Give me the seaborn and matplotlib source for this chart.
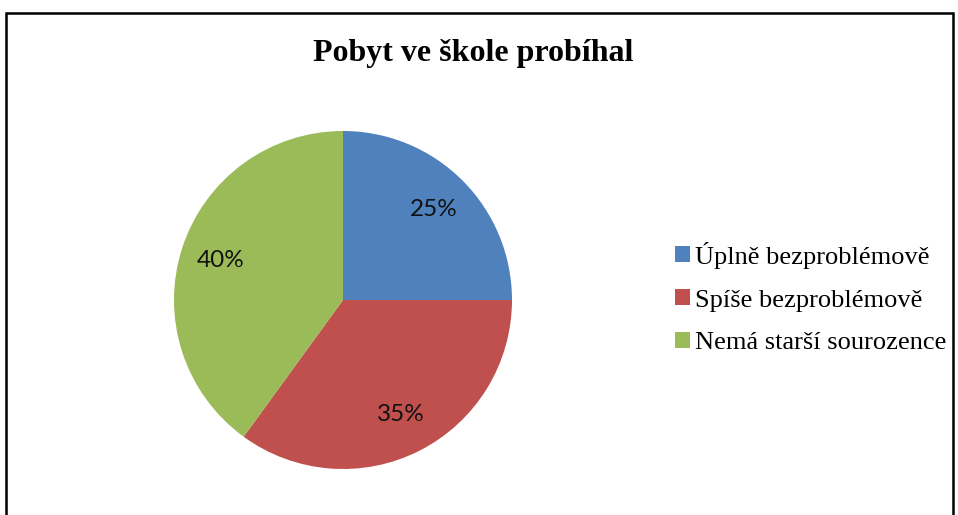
import matplotlib
matplotlib.use("Agg")
import matplotlib.pyplot as plt
import seaborn as sns
from matplotlib.patches import Rectangle

# data
categories = ["Úplně bezproblémově", "Spíše bezproblémově", "Nemá starší sourozence"]
values = [25, 35, 40]
colors = ["#4F81BD", "#C0504D", "#9BBB59"]
title = "Pobyt ve škole probíhal"

sns.set_style("white")
plt.rcParams["font.family"] = ["Liberation Serif", "DejaVu Serif"]
plt.rcParams["text.color"] = "black"

W, H = 958, 515
fig = plt.figure(figsize=(W / 100, H / 100), dpi=100)

# pie axes: centre ~ (343, 300) px, radius ~169 px
cx, cy, r = 343, 300, 169
ax = fig.add_axes([(cx - r) / W, (H - cy - r) / H, 2 * r / W, 2 * r / H])
wedges, texts, autotexts = ax.pie(
    values,
    colors=colors,
    startangle=90,
    counterclock=False,
    autopct="%d%%",
    pctdistance=0.76,
    wedgeprops=dict(linewidth=0),
    textprops=dict(fontsize=17.5, family=["Lato", "DejaVu Sans"], color="#111111"),
)
ax.set_xlim(-1, 1)
ax.set_ylim(-1, 1)
ax.set_aspect("equal")

# title
fig.text(473 / W, 1 - 53 / H, title, ha="center", va="center",
         fontsize=23, fontweight="bold", family=["Liberation Serif"], color="black")

# legend
leg = fig.legend(wedges, categories, loc="center left",
                 bbox_to_anchor=(662 / W, 1 - 298 / H),
                 frameon=False, fontsize=19, handlelength=0.55, handleheight=0.55,
                 handletextpad=0.2, labelspacing=0.78, borderpad=0)
for t in leg.get_texts():
    t.set_color("black")

# chart border (bottom edge cut off)
fig.patches.append(Rectangle((6 / W, -0.05), (953 - 6) / W, (H - 13) / H + 0.05,
                             transform=fig.transFigure, fill=False,
                             edgecolor="black", linewidth=1.8))

fig.savefig("out.png", dpi=100, facecolor="white")
